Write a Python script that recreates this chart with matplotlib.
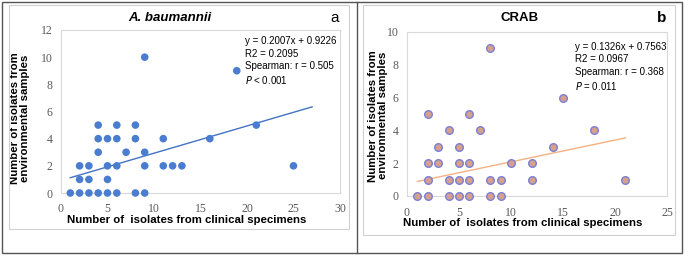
import numpy as np
import matplotlib.pyplot as plt
from matplotlib.patches import Rectangle
from matplotlib.lines import Line2D

# panel a: A. baumannii
a_x = [1, 2, 3, 4, 5, 6, 8, 9,
       2, 3, 5,
       2, 3, 5, 6, 9, 11, 12, 13, 25,
       4, 7, 9,
       4, 5, 6, 8, 11, 16,
       4, 6, 8, 21,
       9]
a_y = [0, 0, 0, 0, 0, 0, 0, 0,
       1, 1, 1,
       2, 2, 2, 2, 2, 2, 2, 2, 2,
       3, 3, 3,
       4, 4, 4, 4, 4, 4,
       5, 5, 5, 5,
       10]
a_fit = (0.2007, 0.9226)
a_fit_range = [1, 27]
a_text = ["y = 0.2007x + 0.9226", "R2 = 0.2095", "Spearman: r = 0.505", "$\\it{P}$ < 0.001"]

# panel b: CRAB
b_x = [1, 2, 4, 5, 6, 8, 9,
       2, 4, 5, 6, 8, 9, 12, 21,
       2, 3, 5, 6, 10, 12,
       3, 5, 14,
       4, 7, 18,
       2, 6,
       15,
       8]
b_y = [0, 0, 0, 0, 0, 0, 0,
       1, 1, 1, 1, 1, 1, 1, 1,
       2, 2, 2, 2, 2, 2,
       3, 3, 3,
       4, 4, 4,
       5, 5,
       6,
       9]
b_fit = (0.1326, 0.7563)
b_fit_range = [1, 21]
b_text = ["y = 0.1326x + 0.7563", "R2 = 0.0967", "Spearman: r = 0.368", "$\\it{P}$ = 0.011"]

W, H = 685, 256
fig = plt.figure(figsize=(W / 100, H / 100), dpi=100)

def px_rect(x0, y0, x1, y1, color, lw):
    # pixel coords, y measured from top
    fig.add_artist(Rectangle((x0 / W, 1 - y1 / H), (x1 - x0) / W, (y1 - y0) / H,
                             transform=fig.transFigure, fill=False, ec=color, lw=lw))

px_rect(2, 1.5, 682, 253, '#555555', 1.0)
fig.add_artist(Line2D([357 / W, 357 / W], [1 - 1.5 / H, 1 - 253 / H],
                      transform=fig.transFigure, color='#555555', lw=1.0))
px_rect(9, 5, 349, 229, '#d0d0d0', 0.8)
px_rect(363, 5, 675, 235, '#d0d0d0', 0.8)

tick_font = dict(family='Liberation Serif', size=8.5, color='#595959')
lab_font = dict(family='Liberation Sans', size=8.2, weight='bold', color='black')
ann_font = dict(family='Liberation Sans', size=7, color='black')

def style(ax, xmax, ymax, xstep, ystep, xpad):
    ax.set_xlim(0, xmax)
    ax.set_ylim(0, ymax)
    ax.set_xticks(np.arange(0, xmax + 1, xstep))
    ax.set_yticks(np.arange(0, ymax + 1, ystep))
    for s in ax.spines.values():
        s.set_color('#d9d9d9')
        s.set_linewidth(0.8)
    ax.tick_params(length=0, pad=6)
    ax.tick_params(axis='x', pad=xpad)
    for t in ax.get_xticklabels() + ax.get_yticklabels():
        t.set_fontfamily(tick_font['family'])
        t.set_fontsize(tick_font['size'])
        t.set_color(tick_font['color'])

def labels(ax, xc, yc):
    ax.set_xlabel("Number of  isolates from clinical specimens", **lab_font)
    ax.set_ylabel("Number of isolates from\nenvironmental samples", linespacing=1.0, **lab_font)
    ax.xaxis.set_label_coords(*xc)
    ax.xaxis.label.set_va('center')
    ax.yaxis.set_label_coords(*yc)
    ax.yaxis.label.set_va('center')

# panel a
axa = fig.add_axes([61 / W, 1 - 193 / H, (340 - 61) / W, (193 - 30) / H])
style(axa, 30, 12, 5, 2, 7)
xx = np.array(a_fit_range)
axa.plot(xx, a_fit[0] * xx + a_fit[1], color='#4472c4', lw=1.0, zorder=2)
axa.scatter(a_x, a_y, s=30, color='#4a7dd0', edgecolors='none', zorder=3, clip_on=False)
axa.scatter([18.9], [9.0], s=30, color='#4a7dd0', edgecolors='none', zorder=3)
axa.text(19.8, 11.55, "\n".join(a_text), va='top', ha='left', linespacing=1.3, **ann_font)
labels(axa, (0.45, -0.168), (-0.147, 0.46))
fig.text(170 / W, 1 - 18 / H, "A. baumannii", ha='center', va='center',
         family='Liberation Sans', size=9.5, weight='bold', style='italic')
fig.text(335 / W, 1 - 18 / H, "a", ha='center', va='center',
         family='Liberation Sans', size=11)

# panel b
axb = fig.add_axes([407 / W, 1 - 196 / H, (667 - 407) / W, (196 - 32) / H])
style(axb, 25, 10, 5, 2, 8)
xx = np.array(b_fit_range)
axb.plot(xx, b_fit[0] * xx + b_fit[1], color='#f4b183', lw=1.0, zorder=2)
axb.scatter(b_x, b_y, s=30, color='#d6a08c', edgecolors='#7a7fd6', linewidths=1.0,
            zorder=3, clip_on=False)
axb.text(16.2, 9.4, "\n".join(b_text), va='top', ha='left', linespacing=1.3, **ann_font)
labels(axb, (0.445, -0.165), (-0.112, 0.49))
fig.text(520 / W, 1 - 18 / H, "CRAB", ha='center', va='center',
         family='Liberation Sans', size=9.5, weight='bold')
fig.text(662 / W, 1 - 18 / H, "b", ha='center', va='center',
         family='Liberation Sans', size=11, weight='bold')

fig.savefig("out.png", dpi=100)
